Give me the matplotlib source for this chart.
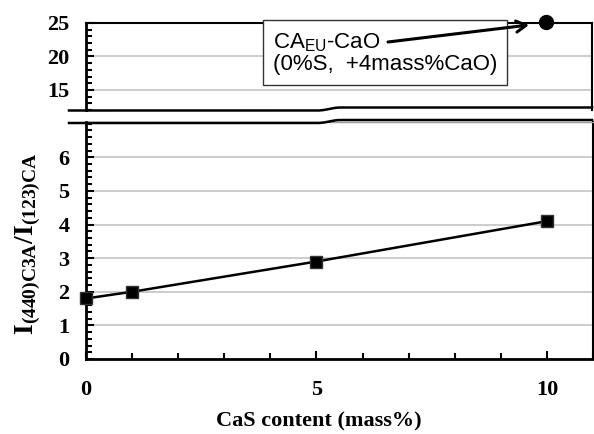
import numpy as np
import matplotlib
matplotlib.use("Agg")
import matplotlib.pyplot as plt
from matplotlib.patches import FancyArrowPatch
from matplotlib.ticker import MultipleLocator, FixedLocator
from matplotlib.lines import Line2D

# CaS series (lower panel)
cas_content = [0, 1, 5, 10]
intensity_ratio = [1.8, 2.0, 2.9, 4.1]

# CA_EU-CaO reference point (upper panel)
caeu_x = [10]
caeu_ratio = [25.2]

bottom_yticks = [0, 1, 2, 3, 4, 5, 6]
top_yticks = [15, 20, 25]
xticks = [0, 5, 10]

plt.rcParams["font.family"] = ["Liberation Serif", "DejaVu Serif"]
plt.rcParams["font.weight"] = "bold"
plt.rcParams["mathtext.fontset"] = "custom"
plt.rcParams["mathtext.rm"] = "Liberation Serif:bold"
plt.rcParams["mathtext.bf"] = "Liberation Serif:bold"
plt.rcParams["mathtext.sf"] = "Liberation Sans:normal"

W, H = 594, 434
fig = plt.figure(figsize=(W / 100, H / 100), dpi=100)


def fx(px):
    return px / W


def fy(py):
    return 1 - py / H


ax_top = fig.add_axes([fx(86), fy(110), fx(592) - fx(86), fy(23) - fy(110)])
ax_bot = fig.add_axes([fx(86), fy(359), fx(593) - fx(86), fy(122) - fy(359)])

grid_kw = dict(color="#c4c4c4", lw=1.2)
tick_font = 16

# ---- lower panel ----
ax_bot.set_xlim(0, 11)
ax_bot.set_ylim(0, 7.05)
ax_bot.yaxis.set_major_locator(FixedLocator(bottom_yticks))
ax_bot.yaxis.set_minor_locator(MultipleLocator(0.2))
ax_bot.xaxis.set_major_locator(FixedLocator(xticks))
ax_bot.xaxis.set_minor_locator(MultipleLocator(1))
ax_bot.tick_params(which="both", direction="in", top=False, right=False,
                   labelsize=tick_font, width=1.5)
ax_bot.tick_params(which="major", length=6)
ax_bot.tick_params(which="minor", length=4)
ax_bot.tick_params(axis="y", pad=12)
ax_bot.tick_params(axis="x", pad=15)
ax_bot.yaxis.grid(True, **grid_kw)
ax_bot.set_axisbelow(True)
ax_bot.spines["left"].set_linewidth(2)
ax_bot.spines["bottom"].set_linewidth(2)
ax_bot.spines["right"].set_linewidth(1.5)
ax_bot.spines["top"].set_color("#9a9a9a")
ax_bot.spines["top"].set_linewidth(1)

ax_bot.plot(cas_content, intensity_ratio, "-s", color="black", lw=1.8,
            ms=9, mec="#333333", mfc="black", clip_on=False, zorder=3)

ax_bot.set_xlabel("CaS content (mass%)", fontsize=16, fontweight="bold")
ax_bot.xaxis.set_label_coords(0.46, (359 - 421) / 237)
ax_bot.xaxis.label.set_va("center")
ax_bot.set_ylabel(r"$\mathbf{I_{(440)C3A}/I_{(123)CA}}$", fontsize=20)
ax_bot.yaxis.set_label_coords((28 - 86) / 507, 0.485)
ax_bot.yaxis.label.set_va("center")

# ---- upper panel ----
ax_top.set_xlim(0, 11)
ax_top.set_ylim(12, 25)
ax_top.yaxis.set_major_locator(FixedLocator(top_yticks))
ax_top.yaxis.set_minor_locator(MultipleLocator(1))
ax_top.set_xticks([])
ax_top.tick_params(which="both", direction="in", right=False,
                   labelsize=tick_font, width=1.5, pad=12)
ax_top.tick_params(which="major", length=6)
ax_top.tick_params(which="minor", length=4)
ax_top.yaxis.grid(True, **grid_kw)
ax_top.set_axisbelow(True)
ax_top.spines["bottom"].set_visible(False)
ax_top.spines["left"].set_linewidth(2)
ax_top.spines["top"].set_linewidth(1.5)
ax_top.spines["right"].set_linewidth(1.5)

ax_top.plot(caeu_x, caeu_ratio, "o", color="black", ms=10, clip_on=False,
            zorder=4)

# ---- axis break lines ----
xs = np.linspace(69, 592, 300)
t = np.clip((xs - 318) / 22, 0, 1)
step = t * t * (3 - 2 * t)
for y0 in (110.5, 123.0):
    ys = y0 - 3.0 * step
    fig.add_artist(Line2D(fx(xs), fy(ys), color="black", lw=1.8,
                          transform=fig.transFigure))

# ---- annotation ----
fig.text(fx(273), fy(31), "CA$_{\\mathsf{EU}}$-CaO\n(0%S,  +4mass%CaO)",
         family=["Liberation Sans", "DejaVu Sans"], weight="normal",
         fontsize=16, ha="left", va="top", linespacing=1.0, zorder=3,
         bbox=dict(boxstyle="square,pad=0.45", fc="white", ec="#333333",
                   lw=1))
fig.add_artist(FancyArrowPatch(
    (fx(388), fy(42)), (fx(529), fy(25)), transform=fig.transFigure,
    arrowstyle="->,head_length=7,head_width=4", lw=2.2, color="black",
    shrinkA=0, shrinkB=0, zorder=6))

fig.savefig("out.png", dpi=100)
